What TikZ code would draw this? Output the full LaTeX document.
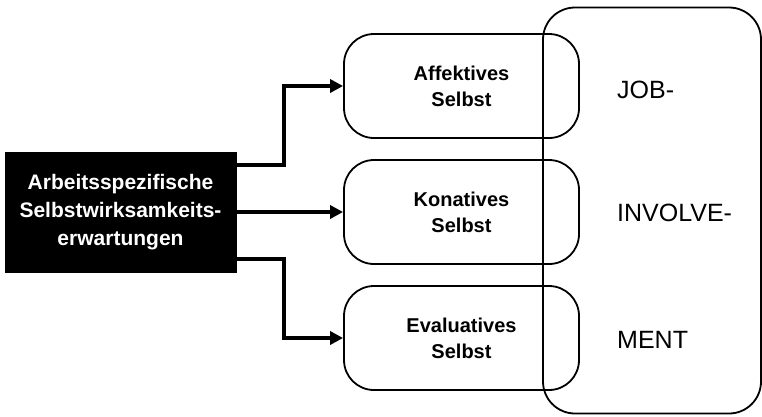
\documentclass[tikz,border=0pt]{standalone}
\usepackage{fontspec}
\setmainfont{Liberation Sans}
\usetikzlibrary{arrows.meta}
\begin{document}
\begin{tikzpicture}[x=1pt,y=-1pt,
  srcbox/.style={rectangle, fill=black, draw=black, line width=1pt, minimum width=231pt, minimum height=120pt, inner sep=0pt, text=white, align=center, font=\fontsize{21}{28}\selectfont\bfseries},
  selfbox/.style={rectangle, rounded corners=30pt, draw=black, line width=1.8pt, minimum width=235pt, minimum height=104pt, inner sep=0pt, align=center, font=\fontsize{20}{26}\selectfont\bfseries},
  bigbox/.style={rectangle, rounded corners=32pt, draw=black, line width=1.8pt, minimum width=218pt, minimum height=406pt, inner sep=0pt},
  jobtxt/.style={anchor=west, inner sep=0pt, font=\fontsize{25}{30}\selectfont},
  arr/.style={line width=4pt, -{Triangle[length=13pt,width=13pt]}}
]
\useasboundingbox (0,0) rectangle (762,416);
\node[srcbox] (src) at (120.5,212) {Arbeitsspezifische\\Selbstwirksamkeits-\\erwartungen};
\node[selfbox] (aff) at (461.5,86) {Affektives\\Selbst};
\node[selfbox] (kon) at (461.5,212) {Konatives\\Selbst};
\node[selfbox] (eva) at (461.5,338) {Evaluatives\\Selbst};
\node[bigbox] (big) at (652,210.5) {};
\node[jobtxt] (t1) at (617,90) {JOB-};
\node[jobtxt] (t2) at (617,213) {INVOLVE-};
\node[jobtxt] (t3) at (617,340) {MENT};
\draw[arr] ([yshift=47pt]src.east) -- ++(47,0) |- (aff.west);
\draw[arr] (src.east) -- (kon.west);
\draw[arr] ([yshift=-47pt]src.east) -- ++(47,0) |- (eva.west);
\end{tikzpicture}
\end{document}
